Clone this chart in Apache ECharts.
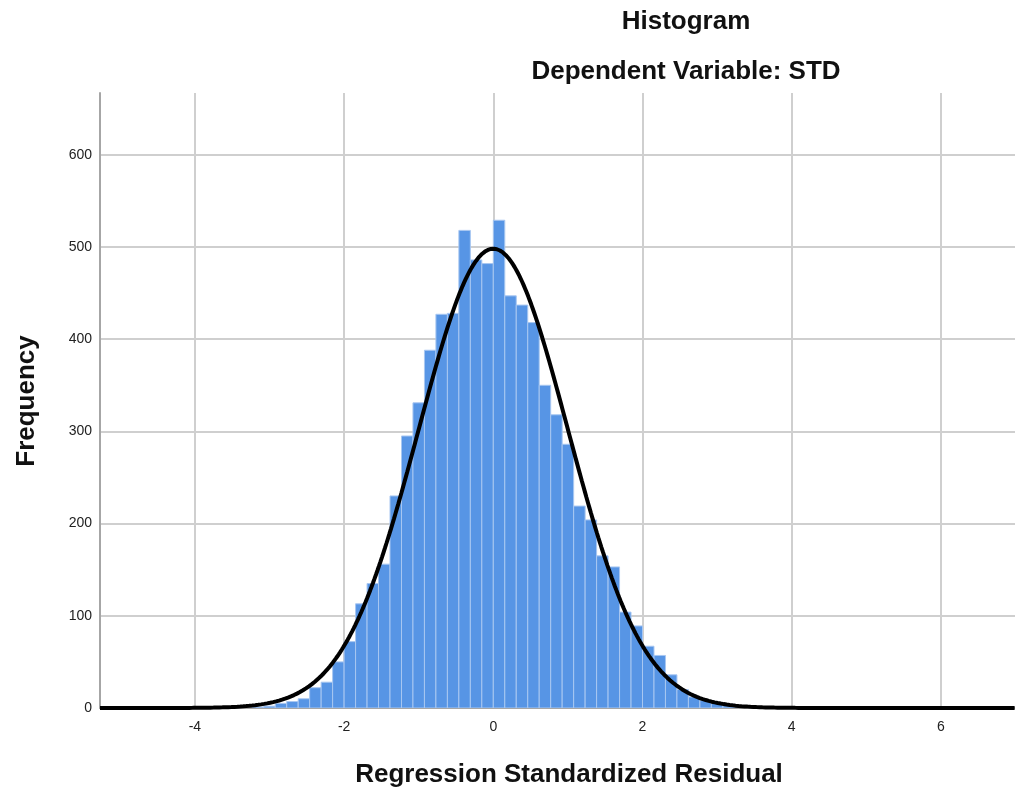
<!DOCTYPE html>
<html>
<head>
<meta charset="utf-8">
<title>Histogram</title>
<script src="https://cdn.jsdelivr.net/npm/echarts@6/dist/echarts.min.js"></script>
<style>
  html, body { margin: 0; padding: 0; background: #ffffff; }
  #chart { width: 1015px; height: 793px; }
</style>
</head>
<body>
<div id="chart"></div>
<script>
// Histogram of regression standardized residuals (dependent variable: STD)
const binWidth = 2 / 13;          // width of each residual bin
const firstBinStart = -21 * binWidth;
const counts = [
  1, 2, 5, 7, 10, 22, 28, 50, 72, 113, 135, 156, 230, 295, 331, 388, 427, 428, 518, 486, 482,
  529, 447, 437, 418, 350, 318, 286, 219, 204, 165, 153, 104, 89, 67, 57, 36, 20, 12, 8, 5, 4, 2
];
const residualMean = 0;
const residualStdDev = 1;
const xTicks = [-4, -2, 0, 2, 4, 6];
const yTicks = [0, 100, 200, 300, 400, 500, 600];
const xRange = [-5.272, 6.993];
const yRange = [0, 667];

const totalN = counts.reduce((a, b) => a + b, 0);

// bins as [start, end, frequency]
const bins = counts.map((c, i) => {
  const x0 = firstBinStart + i * binWidth;
  return [x0, x0 + binWidth, c];
});

// fitted normal curve scaled to the histogram (N * bin width * density)
const curve = [];
for (let x = xRange[0]; x <= xRange[1] + 1e-9; x += 0.02) {
  const z = (x - residualMean) / residualStdDev;
  const d = Math.exp(-0.5 * z * z) / (residualStdDev * Math.sqrt(2 * Math.PI));
  curve.push([x, totalN * binWidth * d]);
}

const chart = echarts.init(document.getElementById('chart'), null, { renderer: 'canvas' });

const gridLine = { show: true, lineStyle: { color: '#cfcfcf', width: 2 } };
const boldFont = 'bold 26px "Liberation Sans", Arial, sans-serif';

chart.setOption({
  animation: false,
  backgroundColor: '#ffffff',
  grid: { left: 100, right: 0, top: 93, bottom: 85, containLabel: false },
  xAxis: {
    type: 'value',
    min: xRange[0],
    max: xRange[1],
    axisLine: { show: true, onZero: false, lineStyle: { color: '#a6a6a6', width: 2 } },
    axisTick: { show: false, customValues: xTicks },
    axisLabel: {
      customValues: xTicks,
      color: '#222222',
      fontSize: 14,
      fontFamily: '"Liberation Sans", Arial, sans-serif',
      margin: 12
    },
    splitLine: gridLine
  },
  yAxis: {
    type: 'value',
    min: yRange[0],
    max: yRange[1],
    axisLine: { show: true, onZero: false, lineStyle: { color: '#a6a6a6', width: 2 } },
    axisTick: { show: false, customValues: yTicks },
    axisLabel: {
      customValues: yTicks,
      color: '#222222',
      fontSize: 14,
      fontFamily: '"Liberation Sans", Arial, sans-serif',
      margin: 8
    },
    splitLine: gridLine
  },
  graphic: [
    { type: 'text', x: 686, y: 22, style: { text: 'Histogram', font: boldFont, fill: '#111111', textAlign: 'center', textVerticalAlign: 'middle' } },
    { type: 'text', x: 686, y: 72, style: { text: 'Dependent Variable: STD', font: boldFont, fill: '#111111', textAlign: 'center', textVerticalAlign: 'middle' } },
    { type: 'text', x: 569, y: 775, style: { text: 'Regression Standardized Residual', font: boldFont, fill: '#111111', textAlign: 'center', textVerticalAlign: 'middle' } },
    { type: 'text', x: 27, y: 401, rotation: Math.PI / 2, style: { text: 'Frequency', font: boldFont, fill: '#111111', textAlign: 'center', textVerticalAlign: 'middle' } }
  ],
  series: [
    {
      type: 'custom',
      name: 'Frequency',
      data: bins,
      clip: true,
      encode: { x: [0, 1], y: 2 },
      renderItem: function (params, api) {
        const p0 = api.coord([api.value(0), api.value(2)]);
        const p1 = api.coord([api.value(1), 0]);
        return {
          type: 'rect',
          shape: { x: p0[0], y: p0[1], width: p1[0] - p0[0], height: p1[1] - p0[1] },
          style: { fill: '#5795e5', stroke: '#a8c7f1', lineWidth: 1 }
        };
      },
      z: 2
    },
    {
      type: 'line',
      name: 'Normal',
      data: curve,
      showSymbol: false,
      symbol: 'none',
      clip: true,
      lineStyle: { color: '#000000', width: 4 },
      z: 3
    }
  ]
});
</script>
</body>
</html>
